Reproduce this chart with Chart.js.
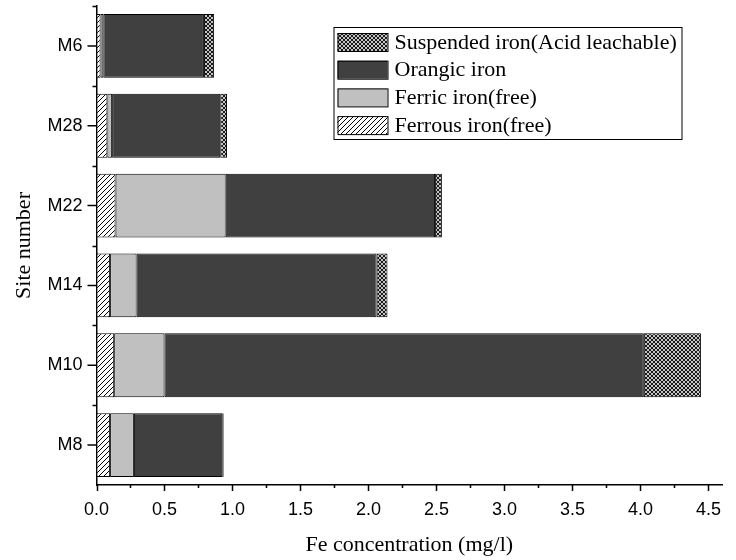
<!DOCTYPE html>
<html>
<head>
<meta charset="utf-8">
<script src="https://cdn.jsdelivr.net/npm/chart.js@4"></script>
<style>
  html, body { margin: 0; padding: 0; background: #fff; }
  #wrap { width: 736px; height: 560px; }
</style>
</head>
<body>
<div id="wrap"><canvas id="ironChart" width="736" height="560"></canvas></div>
<script>
// Site labels, top to bottom as in the figure
const sites = ['M6', 'M28', 'M22', 'M14', 'M10', 'M8'];

// Fe fractions (mg/l)
const ferrous   = [0.03, 0.08, 0.14, 0.10, 0.13, 0.10];
const ferric    = [0.02, 0.035, 0.81, 0.195, 0.37, 0.175];
const organic   = [0.74, 0.795, 1.54, 1.765, 3.525, 0.65];
const suspended = [0.075, 0.05, 0.05, 0.08, 0.42, 0.01];

const xMajorTicks = [0, 0.5, 1.0, 1.5, 2.0, 2.5, 3.0, 3.5, 4.0, 4.5];

// fill patterns
function hatchPattern() {
    const c = document.createElement('canvas');
    c.width = 5; c.height = 5;
    const g = c.getContext('2d');
    g.fillStyle = '#fff';
    g.fillRect(0, 0, 5, 5);
    g.strokeStyle = '#000';
    g.lineWidth = 1;
    g.beginPath();
    g.moveTo(-1, 6); g.lineTo(6, -1);
    g.moveTo(-1, 1); g.lineTo(1, -1);
    g.moveTo(4, 6); g.lineTo(6, 4);
    g.stroke();
    return g.createPattern(c, 'repeat');
}

function crossPattern() {
    const c = document.createElement('canvas');
    c.width = 4; c.height = 4;
    const g = c.getContext('2d');
    g.fillStyle = '#1a1a1a';
    g.fillRect(0, 0, 4, 4);
    g.fillStyle = '#c4c4c4';
    g.fillRect(1, 0, 2, 1);
    g.fillRect(0, 1, 4, 2);
    g.fillRect(1, 3, 2, 1);
    g.fillStyle = '#1a1a1a';
    g.fillRect(1, 1, 2, 2);
    return g.createPattern(c, 'repeat');
}

const ctx = document.getElementById('ironChart').getContext('2d');

// tick marks drawn from the scales (major + minor)
const tickMarks = {
    id: 'tickMarks',
    afterDraw(chart) {
        const g = chart.ctx;
        const xs = chart.scales.x, ys = chart.scales.y;
        g.save();
        g.strokeStyle = '#000';
        g.lineWidth = 1.5;
        g.beginPath();
        for (let v = 0; v <= 4.6; v += 0.25) {
            const px = Math.round(xs.getPixelForValue(v)) + 0.5;
            const major = Math.abs(v * 2 - Math.round(v * 2)) < 1e-6;
            g.moveTo(px, xs.top);
            g.lineTo(px, xs.top + (major ? 6 : 3));
        }
        const step = ys.getPixelForValue(1) - ys.getPixelForValue(0);
        for (let i = 0; i < sites.length; i++) {
            const py = ys.getPixelForValue(i);
            g.moveTo(ys.right, py);
            g.lineTo(ys.right - 9, py);
            const edge = Math.round(py - step / 2) + 0.5;
            g.moveTo(ys.right, edge);
            g.lineTo(ys.right - 4, edge);
        }
        g.stroke();
        g.restore();
    }
};

// legend box inside the plot
const boxLegend = {
    id: 'boxLegend',
    afterDraw(chart) {
        const g = chart.ctx;
        const a = chart.chartArea;
        const left = a.left + 237, top = a.top + 21;
        const w = 348, h = 112;
        g.save();
        g.fillStyle = '#fff';
        g.fillRect(left, top, w, h);
        g.strokeStyle = '#000';
        g.lineWidth = 1;
        g.strokeRect(left + 0.5, top + 0.5, w, h);
        const items = chart.data.datasets.slice().reverse();
        g.font = '22px "Liberation Serif", "Times New Roman", serif';
        g.textBaseline = 'middle';
        items.forEach((ds, i) => {
            const cy = top + 15 + i * 27.7;
            g.fillStyle = ds.backgroundColor;
            g.fillRect(left + 4, cy - 9, 50, 18);
            g.strokeRect(left + 4.5, cy - 8.5, 50, 18);
            g.fillStyle = '#000';
            g.fillText(ds.label, left + 61, cy + 1);
        });
        g.restore();
    }
};

const common = { borderColor: '#000', borderWidth: 1, borderSkipped: false, barPercentage: 0.8, categoryPercentage: 1 };

new Chart(ctx, {
    type: 'bar',
    data: {
        labels: sites,
        datasets: [
            Object.assign({ label: 'Ferrous iron(free)', data: ferrous, backgroundColor: hatchPattern() }, common),
            Object.assign({ label: 'Ferric iron(free)', data: ferric, backgroundColor: '#c0c0c0' }, common),
            Object.assign({ label: 'Orangic iron', data: organic, backgroundColor: '#404040' }, common),
            Object.assign({ label: 'Suspended iron(Acid leachable)', data: suspended, backgroundColor: crossPattern() }, common)
        ]
    },
    options: {
        indexAxis: 'y',
        responsive: false,
        animation: false,
        layout: { padding: { left: 0, right: 14, top: 6, bottom: 0 } },
        plugins: { legend: { display: false }, tooltip: { enabled: false } },
        scales: {
            x: {
                stacked: true,
                min: 0,
                max: 4.6,
                afterBuildTicks(scale) {
                    scale.ticks = xMajorTicks.map(v => ({ value: v }));
                },
                afterFit(scale) { scale.height = 75; scale.paddingLeft = 0; scale.paddingRight = 0; },
                grid: { display: false },
                border: { display: true, color: '#000', width: 1.5 },
                ticks: {
                    color: '#000',
                    padding: 6,
                    font: { family: '"Liberation Sans", Arial, sans-serif', size: 18 },
                    callback: v => v.toFixed(1)
                },
                title: {
                    display: true,
                    text: 'Fe concentration (mg/l)',
                    color: '#000',
                    padding: { top: 2, bottom: 2 },
                    font: { family: '"Liberation Serif", "Times New Roman", serif', size: 22 }
                }
            },
            y: {
                stacked: true,
                afterFit(scale) { scale.width = 96.5; scale.paddingTop = 0; scale.paddingBottom = 0; },
                grid: { display: false },
                border: { display: true, color: '#000', width: 1.5 },
                ticks: {
                    color: '#000',
                    padding: 6,
                    font: { family: '"Liberation Sans", Arial, sans-serif', size: 18 }
                },
                title: {
                    display: true,
                    text: 'Site number',
                    color: '#000',
                    padding: { top: 11, bottom: 4 },
                    font: { family: '"Liberation Serif", "Times New Roman", serif', size: 22 }
                }
            }
        }
    },
    plugins: [tickMarks, boxLegend]
});
</script>
</body>
</html>
